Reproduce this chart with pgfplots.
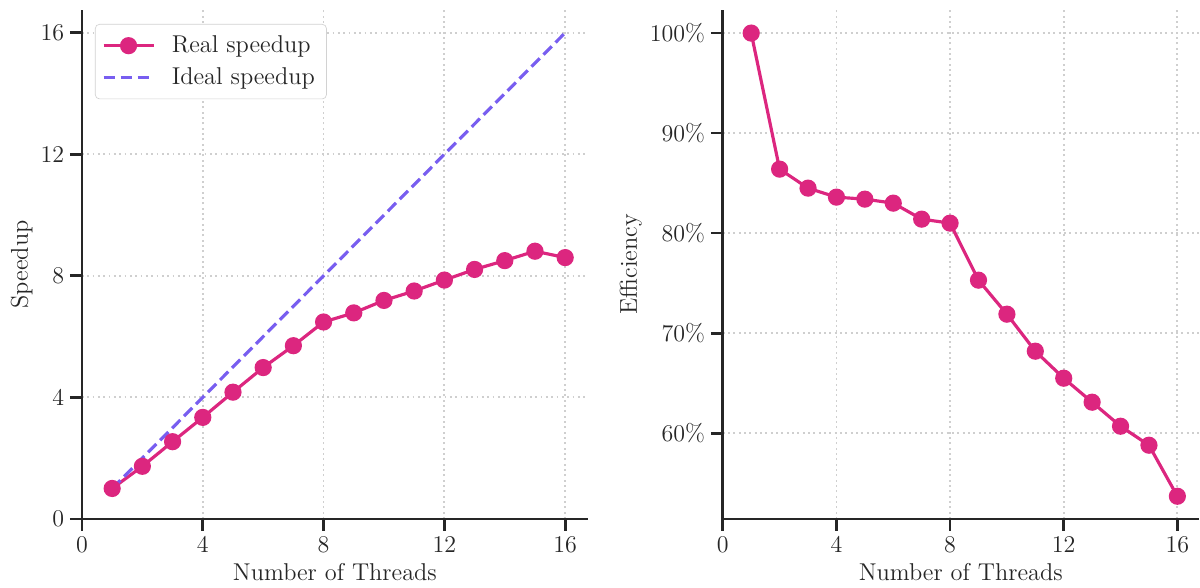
\documentclass[border=0pt]{standalone}
\usepackage{pgfplots}
\pgfplotsset{compat=1.18}
\definecolor{realc}{HTML}{DC267F}
\definecolor{idealc}{HTML}{785EF0}
\definecolor{txt}{HTML}{262626}
\definecolor{gridc}{HTML}{CFCFCF}
\newcommand{\fs}{\fontsize{14.6}{17.5}\selectfont}

\pgfplotsset{
  common/.style={
    scale only axis,
    height=305.4pt,
    axis x line*=bottom, axis y line*=left,
    axis line style={txt, line width=1.6pt},
    every tick/.style={txt, line width=1.6pt},
    tick align=outside,
    major tick length=7.2pt,
    grid=major,
    major grid style={gridc, line width=1.1pt, dash pattern=on 1.1pt off 2.1pt},
    tick label style={font=\fs, text=txt},
    label style={font=\fs, text=txt},
    ylabel shift=-2pt,
    xmin=0, xmax=16.75,
    xtick={0,4,8,12,16},
    xlabel={Number of Threads},
    clip=false,
  },
}

\begin{document}
\begin{tikzpicture}
\path (0,0) rectangle (720pt,352.8pt);

% speedup
\begin{axis}[common,
  at={(49.2pt,41.4pt)}, anchor=south west,
  width=303.6pt,
  ymin=0, ymax=16.75,
  ytick={0,4,8,12,16},
  ylabel={Speedup},
  legend style={at={(0,1)}, anchor=north west, xshift=7.8pt, yshift=-8.4pt,
    draw=gray!35, rounded corners=2.5pt, fill=white, font=\fs, text=txt,
    inner xsep=4pt, inner ysep=4.5pt, row sep=2.5pt,
    nodes={inner xsep=3pt, inner ysep=2.5pt},
    /tikz/every odd column/.append style={column sep=7pt}},
  legend cell align=left,
  legend image code/.code={\draw[mark repeat=2,mark phase=2,#1] plot coordinates {(0pt,0pt)(15pt,0pt)(30pt,0pt)};},
]
\addplot[realc, line width=1.9pt, mark=*, mark size=4.2pt, mark options={fill=realc, draw=none}]
coordinates {
 (1,1.00)(2,1.73)(3,2.54)(4,3.34)(5,4.17)(6,4.98)(7,5.70)(8,6.48)
 (9,6.78)(10,7.19)(11,7.50)(12,7.86)(13,8.21)(14,8.50)(15,8.81)(16,8.60)
};
\addlegendentry{Real speedup}
\addplot[idealc, line width=1.9pt, dash pattern=on 7pt off 3.2pt]
coordinates {
 (1,1)(2,2)(3,3)(4,4)(5,5)(6,6)(7,7)(8,8)
 (9,9)(10,10)(11,11)(12,12)(13,13)(14,14)(15,15)(16,16)
};
\addlegendentry{Ideal speedup}
\end{axis}

% efficiency
\begin{axis}[common,
  at={(433.8pt,41.4pt)}, anchor=south west,
  width=285.6pt,
  ymin=51.44, ymax=102.31,
  ytick={60,70,80,90,100},
  yticklabel={\pgfmathprintnumber{\tick}\%},
  ylabel={Efficiency},
]
\addplot[realc, line width=1.9pt, mark=*, mark size=4.2pt, mark options={fill=realc, draw=none}]
coordinates {
 (1,100.0)(2,86.4)(3,84.5)(4,83.6)(5,83.4)(6,83.0)(7,81.4)(8,81.0)
 (9,75.3)(10,71.9)(11,68.2)(12,65.5)(13,63.1)(14,60.7)(15,58.8)(16,53.7)
};
\end{axis}
\end{tikzpicture}
\end{document}
